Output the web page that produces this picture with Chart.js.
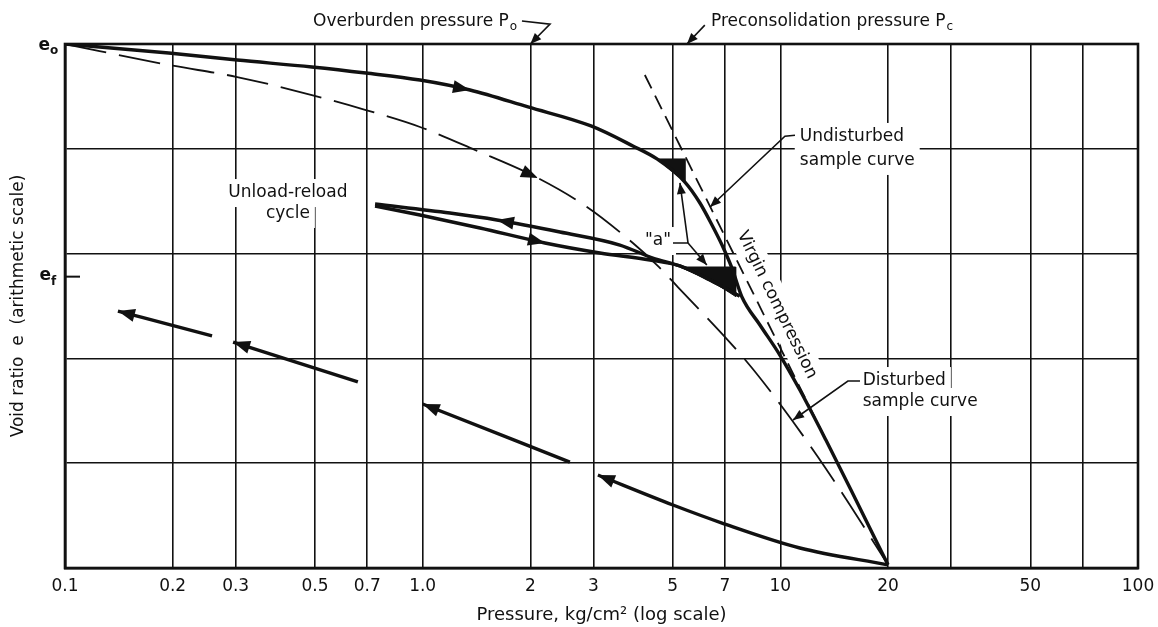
<!DOCTYPE html>
<html>
<head>
<meta charset="utf-8">
<script src="https://cdn.jsdelivr.net/npm/chart.js@4.4.1/dist/chart.umd.min.js"></script>
<style>
  html, body { margin: 0; padding: 0; background: #fff; }
  #wrap { width: 1158px; height: 627px; position: relative; }
</style>
</head>
<body>
<div id="wrap"><canvas id="consol"></canvas></div>
<script>
// pressure ticks (log axis) and their labels
var tickValues = [0.1, 0.2, 0.3, 0.5, 0.7, 1, 2, 3, 5, 7, 10, 20, 30, 50, 70, 100];
var tickLabels = ["0.1", "0.2", "0.3", "0.5", "0.7", "1.0", "2", "3", "5", "7", "10", "20", "", "50", "", "100"];

// void ratio axis: e0 at top, ef marked on the side
var eMin = 0, eMax = 5;
var e0Value = 5.0, efValue = 2.78;

// curves (P in kg/cm2, e on arbitrary arithmetic units)
var undisturbedP = [0.1, 0.195, 0.303, 0.49, 0.694, 0.983, 1.356, 1.97, 2.955, 3.87, 4.52, 5.41, 5.96, 6.44, 6.87, 7.32, 7.81, 8.77, 9.97, 11.34, 13.41, 16.27, 20];
var undisturbedE = [5.0, 4.914, 4.847, 4.781, 4.723, 4.656, 4.561, 4.399, 4.218, 4.027, 3.903, 3.683, 3.483, 3.273, 3.082, 2.863, 2.586, 2.319, 2.032, 1.698, 1.221, 0.649, 0.03];

var disturbedP = [0.1, 0.195, 0.303, 0.49, 0.694, 0.983, 1.40, 2.10, 2.88, 3.87, 4.52, 5.17, 8.07, 10.17, 12.74, 15.65, 20];
var disturbedE = [5.0, 4.80, 4.685, 4.513, 4.37, 4.208, 3.989, 3.721, 3.445, 3.101, 2.891, 2.681, 1.966, 1.527, 1.059, 0.601, 0.03];

var virginP = [4.18, 20];
var virginE = [4.704, 0.03];

var unloadP = [0.736, 1.192, 1.613, 2.42, 3.56, 4.40, 5.24, 6.36, 7.7];
var unloadE = [3.473, 3.387, 3.321, 3.206, 3.082, 2.958, 2.882, 2.748, 2.595];
var reloadP = [0.736, 0.983, 1.446, 2.197, 3.13, 4.32, 5.24, 6.36, 7.7];
var reloadE = [3.454, 3.368, 3.244, 3.101, 3.006, 2.939, 2.882, 2.748, 2.595];

var reboundP = [[3.09, 5.01, 6.87, 11.34, 20], [1.0, 2.58], [0.2951, 0.659], [0.1406, 0.2577]];
var reboundE = [[0.887, 0.601, 0.429, 0.191, 0.03], [1.565, 1.011], [2.156, 1.775], [2.452, 2.214]];

// the two black "a" wedges
var wedgeUpperP = [4.52, 5.41, 5.41, 4.52];
var wedgeUpperE = [3.903, 3.903, 3.683, 3.903];
var wedgeLowerP = [5.24, 7.5, 7.5, 6.36, 5.24];
var wedgeLowerE = [2.872, 2.872, 2.59, 2.748, 2.872];

function pts(ps, es) {
  return ps.map(function (p, i) { return { x: p, y: es[i] }; });
}

var ink = '#111';

function thick(data) {
  return { data: data, borderColor: ink, borderWidth: 3.4, pointRadius: 0, cubicInterpolationMode: 'monotone', fill: false };
}

var datasets = [
  thick(pts(undisturbedP, undisturbedE)),
  { data: pts(disturbedP, disturbedE), borderColor: ink, borderWidth: 1.8, borderDash: [42, 13], pointRadius: 0, cubicInterpolationMode: 'monotone', fill: false },
  { data: pts(virginP, virginE), borderColor: ink, borderWidth: 1.8, borderDash: [15, 8], pointRadius: 0, fill: false },
  thick(pts(unloadP, unloadE)),
  thick(pts(reloadP, reloadE)),
  { data: pts(wedgeUpperP, wedgeUpperE), borderColor: ink, backgroundColor: ink, borderWidth: 1, pointRadius: 0, fill: 'shape' },
  { data: pts(wedgeLowerP, wedgeLowerE), borderColor: ink, backgroundColor: ink, borderWidth: 1, pointRadius: 0, fill: 'shape' }
];
reboundP.forEach(function (ps, k) { datasets.push(thick(pts(ps, reboundE[k]))); });

// arrowheads along curves: [P array, e array, tip index, from index]
var curveArrows = [
  [undisturbedP, undisturbedE, 6, 5],
  [disturbedP, disturbedE, 7, 6],
  [unloadP, unloadE, 2, 3],
  [reloadP, reloadE, 3, 2],
  [reboundP[0], reboundE[0], 0, 1],
  [reboundP[1], reboundE[1], 0, 1],
  [reboundP[2], reboundE[2], 0, 1],
  [reboundP[3], reboundE[3], 0, 1]
];

// text notes, placed in data units
var notes = [
  { text: 'Overburden pressure P', sub: 'o', p: 0.494, e: 5.21, align: 'left' },
  { text: 'Preconsolidation pressure P', sub: 'c', p: 6.40, e: 5.21, align: 'left' },
  { text: 'Undisturbed', p: 11.34, e: 4.113, align: 'left', box: true },
  { text: 'sample curve', p: 11.34, e: 3.884, align: 'left', box: true },
  { text: 'Unload-reload', p: 0.42, e: 3.578, align: 'center', box: true },
  { text: 'cycle', p: 0.42, e: 3.378, align: 'center', box: true },
  { text: '"a"', p: 4.55, e: 3.12, align: 'center', box: true },
  { text: 'Virgin compression', p: 9.78, e: 2.51, align: 'center', box: true, rot: 64 },
  { text: 'Disturbed', p: 17.0, e: 1.784, align: 'left', box: true },
  { text: 'sample curve', p: 17.0, e: 1.584, align: 'left', box: true }
];

// leader lines, arrowhead on the last point
var leaders = [
  [[1.895, 5.22], [2.27, 5.19], [2.0, 5.0]],
  [[6.15, 5.18], [5.48, 5.0]],
  [[10.99, 4.13], [10.3, 4.12], [6.36, 3.445]],
  [[5.01, 3.101], [5.52, 3.101], [5.24, 3.674]],
  [[5.52, 3.101], [6.23, 2.891]],
  [[16.7, 1.784], [15.45, 1.784], [10.85, 1.412]]
];

var fontFamily = "'DejaVu Sans', sans-serif";
var noteFont = '17px ' + fontFamily;

function arrowHead(ctx, from, tip, len, half) {
  var a = Math.atan2(tip[1] - from[1], tip[0] - from[0]);
  var bx = tip[0] - len * Math.cos(a), by = tip[1] - len * Math.sin(a);
  ctx.beginPath();
  ctx.moveTo(tip[0], tip[1]);
  ctx.lineTo(bx + half * Math.sin(a), by - half * Math.cos(a));
  ctx.lineTo(bx - half * Math.sin(a), by + half * Math.cos(a));
  ctx.closePath();
  ctx.fill();
}

var annotate = {
  id: 'annotate',
  beforeDatasetsDraw: function (chart) {
    // white boxes behind labels break the grid like in the print
    var ctx = chart.ctx, sx = chart.scales.x, sy = chart.scales.y;
    ctx.save();
    ctx.font = noteFont;
    ctx.fillStyle = '#fff';
    notes.forEach(function (n) {
      if (!n.box) return;
      var x = sx.getPixelForValue(n.p), y = sy.getPixelForValue(n.e);
      var w = ctx.measureText(n.text).width, h = 18, pad = 5;
      ctx.save();
      ctx.translate(x, y);
      if (n.rot) ctx.rotate(n.rot * Math.PI / 180);
      var left = n.align === 'center' ? -w / 2 : 0;
      ctx.fillRect(left - pad, -h / 2 - pad, w + 2 * pad, h + 2 * pad);
      ctx.restore();
    });
    ctx.restore();
  },
  afterDatasetsDraw: function (chart) {
    var ctx = chart.ctx, sx = chart.scales.x, sy = chart.scales.y, area = chart.chartArea;
    function P(p, e) { return [sx.getPixelForValue(p), sy.getPixelForValue(e)]; }
    ctx.save();
    ctx.fillStyle = ink;
    ctx.strokeStyle = ink;

    curveArrows.forEach(function (c) {
      arrowHead(ctx, P(c[0][c[3]], c[1][c[3]]), P(c[0][c[2]], c[1][c[2]]), 17, 6.5);
    });

    ctx.lineWidth = 1.6;
    leaders.forEach(function (l) {
      ctx.beginPath();
      l.forEach(function (pt, i) {
        var q = P(pt[0], pt[1]);
        if (i === 0) ctx.moveTo(q[0], q[1]); else ctx.lineTo(q[0], q[1]);
      });
      ctx.stroke();
      var n = l.length;
      arrowHead(ctx, P(l[n - 2][0], l[n - 2][1]), P(l[n - 1][0], l[n - 1][1]), 11, 4.5);
    });

    ctx.textBaseline = 'middle';
    notes.forEach(function (n) {
      var q = P(n.p, n.e);
      ctx.save();
      ctx.translate(q[0], q[1]);
      if (n.rot) ctx.rotate(n.rot * Math.PI / 180);
      ctx.font = noteFont;
      ctx.textAlign = n.align;
      ctx.fillText(n.text, 0, 0);
      if (n.sub) {
        var w = ctx.measureText(n.text).width;
        ctx.font = '12px ' + fontFamily;
        ctx.textAlign = 'left';
        ctx.fillText(n.sub, w + 1, 5);
      }
      ctx.restore();
    });

    // e0 / ef on the vertical axis
    var ye0 = sy.getPixelForValue(e0Value), yef = sy.getPixelForValue(efValue);
    ctx.lineWidth = 2;
    ctx.beginPath();
    ctx.moveTo(area.left, yef);
    ctx.lineTo(area.left + 15, yef);
    ctx.stroke();
    ctx.textAlign = 'right';
    ctx.font = 'bold 17px ' + fontFamily;
    ctx.fillText('e', area.left - 15, ye0 + 2);
    ctx.fillText('e', area.left - 14, yef - 1);
    ctx.textAlign = 'left';
    ctx.font = 'bold 12px ' + fontFamily;
    ctx.fillText('o', area.left - 15, ye0 + 7);
    ctx.fillText('f', area.left - 14, yef + 5);

    // plot frame
    ctx.lineWidth = 2.6;
    ctx.strokeRect(area.left, area.top, area.right - area.left, area.bottom - area.top);
    ctx.restore();
  }
};

Chart.defaults.font.family = fontFamily;
Chart.defaults.color = ink;

new Chart('consol', {
  type: 'line',
  data: { datasets: datasets },
  options: {
    responsive: true,
    maintainAspectRatio: false,
    animation: false,
    events: [],
    layout: { padding: { top: 44, right: 20, left: 0, bottom: 0 } },
    plugins: { legend: { display: false }, tooltip: { enabled: false } },
    scales: {
      x: {
        type: 'logarithmic',
        min: 0.1,
        max: 100,
        afterBuildTicks: function (s) { s.ticks = tickValues.map(function (v) { return { value: v }; }); },
        afterFit: function (s) { s.height = 59; s.paddingLeft = 0; s.paddingRight = 0; },
        ticks: {
          autoSkip: false, maxRotation: 0, padding: 8,
          font: { size: 17 },
          callback: function (v, i) { return tickLabels[i]; }
        },
        grid: { color: ink, lineWidth: 1.6, drawTicks: false },
        border: { color: ink, width: 2.6 },
        title: { display: true, text: 'Pressure, kg/cm\u00b2 (log scale)', font: { size: 18 }, padding: { top: 0, bottom: 1 } }
      },
      y: {
        type: 'linear',
        min: eMin,
        max: eMax,
        afterFit: function (s) { s.width = 65; },
        ticks: { stepSize: 1, display: false },
        grid: { color: ink, lineWidth: 1.6, drawTicks: false },
        border: { color: ink, width: 2.6 },
        title: { display: true, text: 'Void ratio  e  (arithmetic scale)', font: { size: 17 }, padding: { top: 8, bottom: 0 } }
      }
    }
  },
  plugins: [annotate]
});
</script>
</body>
</html>
